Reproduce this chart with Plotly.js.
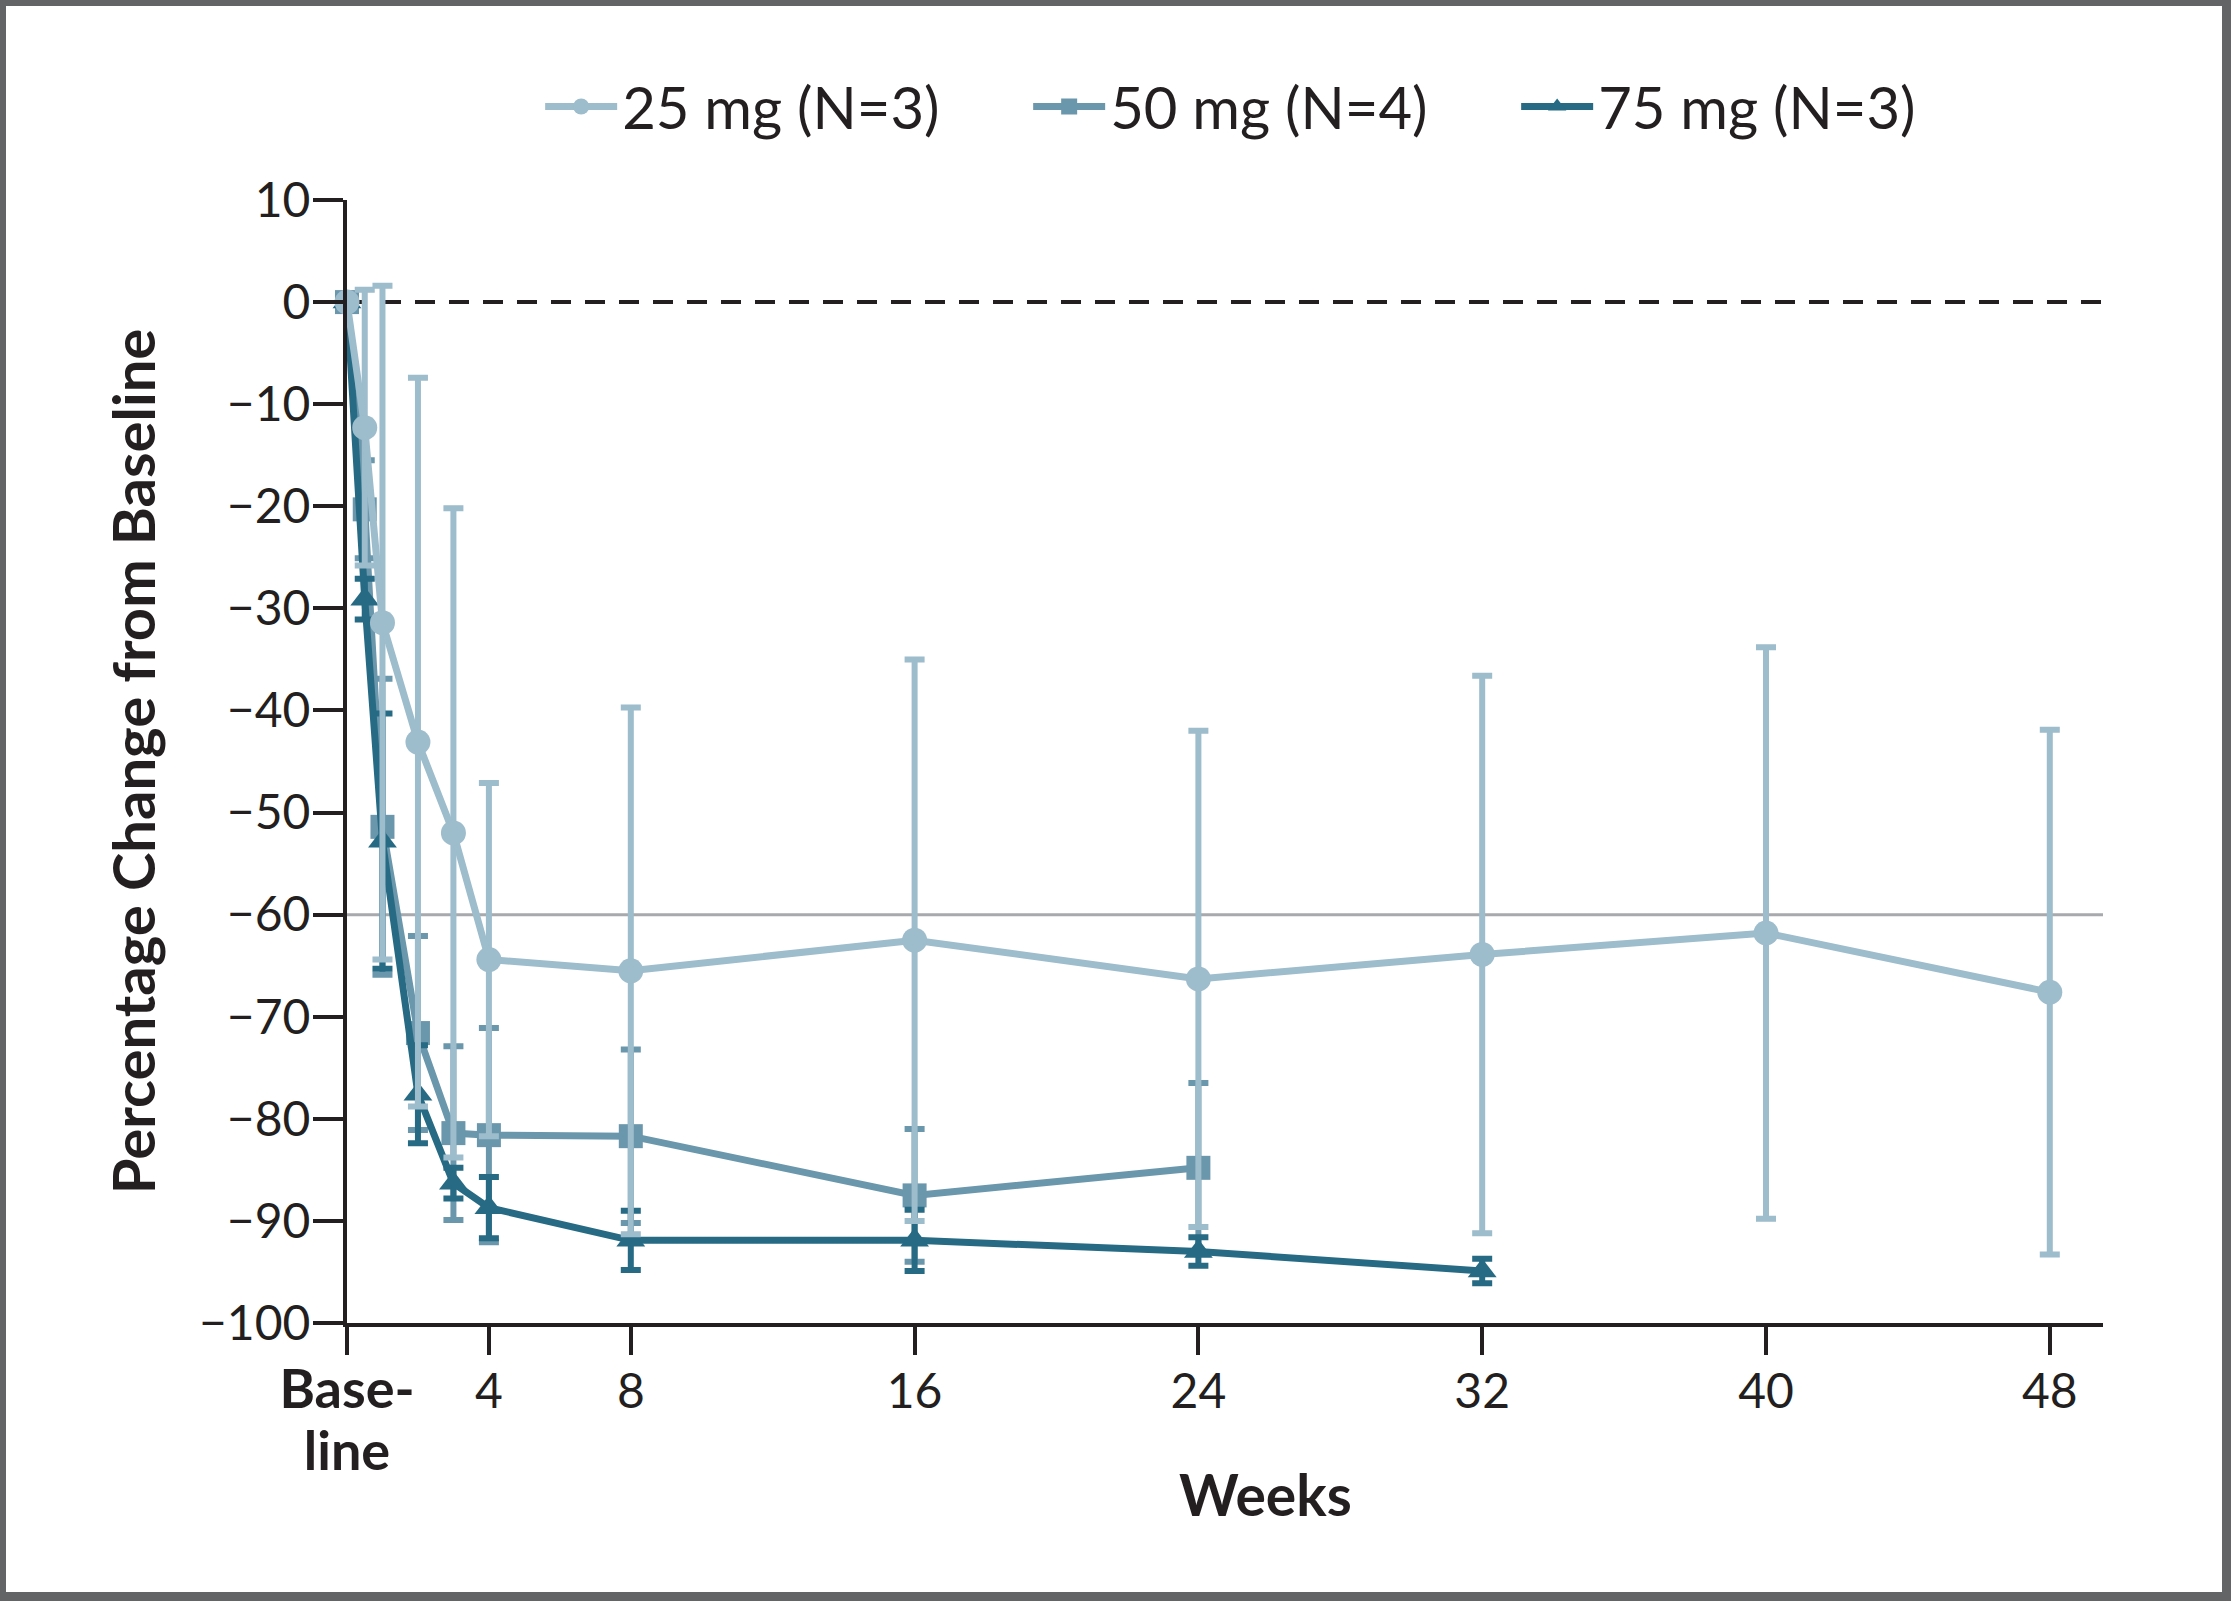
<!DOCTYPE html>
<html>
<head>
<meta charset="utf-8">
<script src="https://cdn.plot.ly/plotly-3.0.1.min.js"></script>
<style>
  html, body { margin: 0; padding: 0; background: #636466; width: 2231px; height: 1601px; overflow: hidden; }
  #chart { position: absolute; left: 6px; top: 6px; width: 2216px; height: 1586px; background: #ffffff; }
</style>
</head>
<body>
<div id="chart"></div>
<script>
// ---- data ----
const seriesNames = ["25 mg (N=3)", "50 mg (N=4)", "75 mg (N=3)"];

const weeks25 = [0, 0.5, 1, 2, 3, 4, 8, 16, 24, 32, 40, 48];
const mean25  = [0, -12.3, -31.4, -43.1, -52.0, -64.4, -65.5, -62.5, -66.3, -63.9, -61.8, -67.6];
const err25   = [null, 13.5, 33.0, 35.7, 31.8, 17.3, 25.8, 27.5, 24.3, 27.3, 28.0, 25.7];

const weeks50 = [0, 0.5, 1, 2, 3, 4, 8, 16, 24];
const mean50  = [0, -20.3, -51.4, -71.6, -81.4, -81.6, -81.7, -87.5, -84.8];
const err50   = [null, 4.8, 14.5, 9.5, 8.5, 10.5, 8.5, 6.5, 8.3];

const weeks75 = [0, 0.5, 1, 2, 3, 4, 8, 16, 24, 32];
const mean75  = [0, -29.1, -52.8, -77.6, -86.3, -88.7, -91.9, -91.9, -93.0, -94.9];
const err75   = [null, 2.0, 12.5, 4.8, 1.5, 3.0, 2.9, 3.0, 1.4, 1.2];

const xTickVals = [0, 4, 8, 16, 24, 32, 40, 48];
const xTickText = ["<span style='font-size:54px'><b>Base-</b></span><br><span style='font-size:54px'><b>line</b></span>", "4", "8", "16", "24", "32", "40", "48"];
const yTickVals = [10, 0, -10, -20, -30, -40, -50, -60, -70, -80, -90, -100];

const zeroLine = 0;
const thresholdLine = -60;

// ---- styles ----
const colors = ["#9dbccc", "#6a97ab", "#266a84"];
const symbols = ["circle", "square", "triangle-up"];
const markerSizes = [25, 24, 25];
const FONT = "Lato, 'Open Sans', sans-serif";
const INK = "#231f20";

function mk(i, x, y, e, rank) {
  return {
    type: "scatter",
    mode: "lines+markers",
    name: seriesNames[i],
    x: x, y: y,
    legendrank: rank,
    cliponaxis: false,
    line: { color: colors[i], width: 7 },
    marker: { color: colors[i], symbol: symbols[i], size: markerSizes[i] },
    error_y: { type: "data", array: e, visible: true, color: colors[i], thickness: 6, width: 10 }
  };
}

const traces = [
  mk(1, weeks50, mean50, err50, 2),
  mk(2, weeks75, mean75, err75, 3),
  mk(0, weeks25, mean25, err25, 1)
];

const layout = {
  width: 2216, height: 1586,
  margin: { l: 341, r: 119, t: 194, b: 269 },
  paper_bgcolor: "#ffffff",
  plot_bgcolor: "#ffffff",
  font: { family: FONT, color: INK, size: 48 },
  showlegend: true,
  legend: {
    orientation: "h",
    x: 0.110, xanchor: "left",
    y: 1.083, yanchor: "middle",
    font: { family: FONT, size: 58, color: INK },
    itemwidth: 72,
    entrywidth: 401, entrywidthmode: "pixels",
    traceorder: "normal",
    bgcolor: "rgba(0,0,0,0)"
  },
  xaxis: {
    range: [0, 49.5],
    tickmode: "array", tickvals: xTickVals, ticktext: xTickText,
    showgrid: false, zeroline: false,
    showline: true, linecolor: INK, linewidth: 4,
    ticks: "outside", ticklen: 28, tickwidth: 4, tickcolor: INK,
    ticklabelstandoff: -5,
    tickfont: { family: FONT, size: 48, color: INK },
    fixedrange: true
  },
  yaxis: {
    range: [-100, 10],
    tickmode: "array", tickvals: yTickVals,
    showgrid: false, zeroline: false,
    showline: true, linecolor: INK, linewidth: 4,
    ticks: "outside", ticklen: 30, tickwidth: 4, tickcolor: INK,
    ticklabelstandoff: -7,
    tickfont: { family: FONT, size: 48, color: INK },
    title: { text: "<b>Percentage Change from Baseline</b>", font: { family: FONT, size: 58, color: INK }, standoff: 26 },
    fixedrange: true
  },
  shapes: [
    { type: "line", xref: "x", yref: "y", x0: 0, x1: 49.5, y0: zeroLine, y1: zeroLine,
      line: { color: INK, width: 4, dash: "20px,14px" }, layer: "below" },
    { type: "line", xref: "x", yref: "y", x0: 0, x1: 49.5, y0: thresholdLine, y1: thresholdLine,
      line: { color: "#a7a9ac", width: 3 }, layer: "below" }
  ],
  annotations: [
    { text: "<b>Weeks</b>", xref: "paper", yref: "paper", x: 0.5228, y: -0.1523,
      xanchor: "center", yanchor: "middle", showarrow: false,
      font: { family: FONT, size: 57, color: INK } }
  ]
};

Plotly.newPlot("chart", traces, layout, { displayModeBar: false, staticPlot: true });
</script>
</body>
</html>
